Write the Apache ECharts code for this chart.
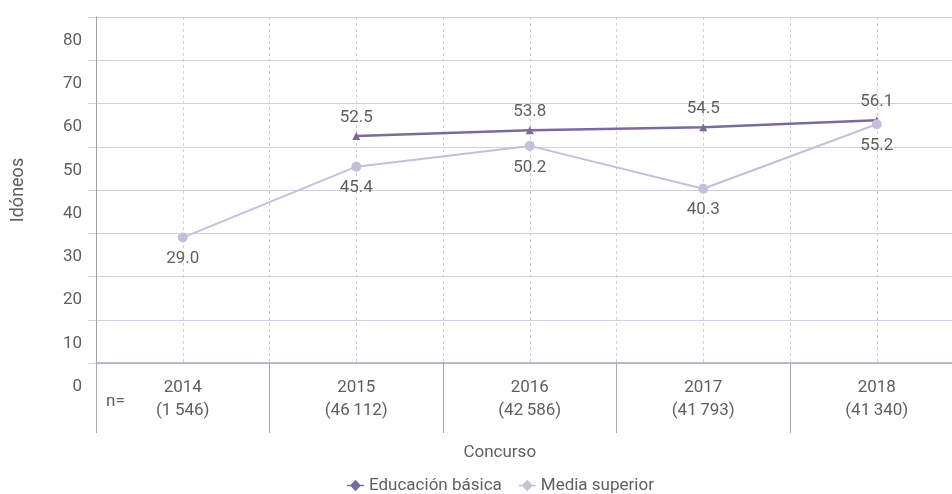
<!DOCTYPE html>
<html>
<head>
<meta charset="utf-8">
<script src="https://cdn.jsdelivr.net/npm/echarts@6/dist/echarts.min.js"></script>
<style>
html,body{margin:0;padding:0;background:#fff;}
#chart{width:952px;height:494px;}
</style>
</head>
<body>
<div id="chart"></div>
<script>
// ---- data ----
var years = ['2014', '2015', '2016', '2017', '2018'];
var nCounts = ['1\u2009546', '46\u2009112', '42\u2009586', '41\u2009793', '41\u2009340'];
var basica = [null, 52.5, 53.8, 54.5, 56.1];
var mediaSuperior = [29.0, 45.4, 50.2, 40.3, 55.2];
var yTicks = [0, 10, 20, 30, 40, 50, 60, 70, 80];
var seriesNames = ['Educación básica', 'Media superior'];
var axisTitles = { x: 'Concurso', y: 'Idóneos' };
var nPrefix = 'n=';

var FONT = 'Roboto, "Noto Sans", sans-serif';
var TXT = '#606060';
var C_BASICA = '#7c6a9c';
var C_MEDIA = '#c6bfdb';

// half-category helper axis for dashed vertical guides
var halfCats = [];
for (var i = 0; i < years.length * 2; i++) halfCats.push('h' + i);

var legendIcon = 'path://M0,5.4L3.5,5.4L8,0.5L12.5,5.4L16,5.4L16,6.6L12.5,6.6L8,11.5L3.5,6.6L0,6.6Z';

var chart = echarts.init(document.getElementById('chart'), null, { renderer: 'canvas' });
chart.setOption({
  animation: false,
  backgroundColor: '#ffffff',
  textStyle: { fontFamily: FONT },
  grid: { left: 96, top: 17, width: 867.5, height: 346, containLabel: false, outerBoundsMode: 'none' },
  legend: {
    left: 342, top: 472,
    itemWidth: 17, itemHeight: 12, itemGap: 17,
    textStyle: { color: TXT, fontSize: 17, fontFamily: FONT },
    data: [
      { name: seriesNames[0], icon: legendIcon, itemStyle: { color: C_BASICA } },
      { name: seriesNames[1], icon: legendIcon, itemStyle: { color: C_MEDIA } }
    ]
  },
  graphic: [{
    type: 'text', left: 106, top: 393, silent: true,
    style: { text: nPrefix, fill: TXT, font: '17px ' + FONT }
  }],
  xAxis: [{
    type: 'category',
    data: years,
    boundaryGap: true,
    name: axisTitles.x,
    nameLocation: 'middle',
    nameGap: 81,
    nameTextStyle: { color: TXT, fontSize: 17, fontFamily: FONT, padding: [0, 60, 0, 0] },
    axisLine: { show: true, lineStyle: { color: '#aaa6c4', width: 1.5 } },
    axisTick: { show: true, length: 70, interval: 0, lineStyle: { color: '#a8a8a8', width: 1 } },
    axisLabel: {
      interval: 0, margin: 13, color: TXT, fontSize: 17, lineHeight: 23, fontFamily: FONT,
      formatter: function (v, idx) { return v + '\n(' + nCounts[idx] + ')'; }
    },
    splitLine: { show: false }
  }, {
    type: 'category',
    data: halfCats,
    boundaryGap: true,
    position: 'bottom',
    axisLine: { show: false },
    axisTick: { show: false },
    axisLabel: { show: false },
    splitLine: { show: true, interval: 0, lineStyle: { color: '#cfcfd6', type: [3, 3], width: 1 } }
  }],
  yAxis: {
    type: 'value',
    min: yTicks[0], max: yTicks[yTicks.length - 1], interval: yTicks[1] - yTicks[0],
    name: axisTitles.y,
    nameLocation: 'middle',
    nameGap: 69,
    nameTextStyle: { color: TXT, fontSize: 18, fontFamily: FONT },
    axisLine: { show: true, lineStyle: { color: '#a0a0a0', width: 1 } },
    axisTick: { show: true, length: 8, lineStyle: { color: '#d2d0df', width: 1 } },
    axisLabel: {
      margin: 14, color: TXT, fontSize: 17, fontFamily: FONT,
      verticalAlign: 'top', padding: [15, 0, 0, 0]
    },
    splitLine: { show: true, lineStyle: { color: '#d2d0df', width: 1 } }
  },
  series: [{
    name: seriesNames[0],
    type: 'line',
    data: basica,
    connectNulls: false,
    symbol: 'triangle',
    symbolSize: 8,
    itemStyle: { color: C_BASICA },
    lineStyle: { color: C_BASICA, width: 2.5 },
    label: {
      show: true, position: 'top', distance: 6, color: TXT, fontSize: 17, fontFamily: FONT,
      formatter: function (p) { return p.value == null ? '' : Number(p.value).toFixed(1); }
    },
    z: 3
  }, {
    name: seriesNames[1],
    type: 'line',
    data: mediaSuperior,
    symbol: 'circle',
    symbolSize: 10,
    itemStyle: { color: C_MEDIA },
    lineStyle: { color: C_MEDIA, width: 2 },
    label: {
      show: true, position: 'bottom', distance: 8, color: TXT, fontSize: 17, fontFamily: FONT,
      formatter: function (p) { return Number(p.value).toFixed(1); }
    },
    z: 4
  }]
});
</script>
</body>
</html>
